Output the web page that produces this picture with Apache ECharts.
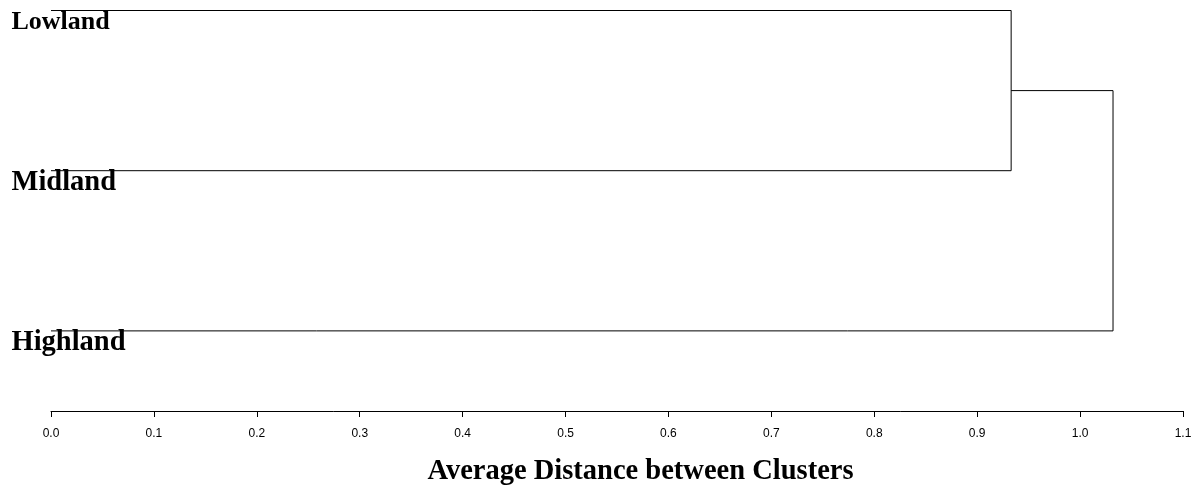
<!DOCTYPE html>
<html>
<head>
<meta charset="utf-8">
<script src="https://cdn.jsdelivr.net/npm/echarts@6/dist/echarts.min.js"></script>
<style>html,body{margin:0;padding:0;background:#fff}#c{width:1201px;height:491px}</style>
</head>
<body>
<div id="c"></div>
<script>
// Leaves (top to bottom) and their row positions
const leaves = ['Lowland', 'Midland', 'Highland'];
const leafRows = [0, 1, 2];
const leafFontSizes = [26, 28.5, 28.5];
// Merge heights (average distance): [Lowland+Midland], [(Lowland+Midland)+Highland]
const mergeHeights = [0.933, 1.032];
const xTicks = ['0.0','0.1','0.2','0.3','0.4','0.5','0.6','0.7','0.8','0.9','1.0','1.1'];
const axisTitle = 'Average Distance between Clusters';

const chart = echarts.init(document.getElementById('c'), null, {renderer: 'canvas'});

// Build dendrogram segments
const m1Row = (leafRows[0] + leafRows[1]) / 2;
const branch1 = [[0, leafRows[0]], [mergeHeights[0], leafRows[0]], [mergeHeights[0], leafRows[1]], [0, leafRows[1]]];
const branch2 = [[mergeHeights[0], m1Row], [mergeHeights[1], m1Row], [mergeHeights[1], leafRows[2]], [0, leafRows[2]]];

const lineStyle = {color: '#000', width: 1};
const option = {
  animation: false,
  grid: {left: 51, right: 18, top: 10.5, bottom: 78.5},
  xAxis: {
    type: 'value', min: 0, max: 1.1, interval: 0.1, position: 'bottom',
    splitLine: {show: false},
    axisLine: {show: true, onZero: false, lineStyle: {color: '#000', width: 1}},
    axisTick: {show: true, length: 6, lineStyle: {color: '#000'}},
    axisLabel: {
      color: '#000', fontSize: 12, fontFamily: 'Liberation Sans', margin: 17,
      formatter: (v) => xTicks[Math.round(v * 10)] || ''
    },
    name: axisTitle, nameLocation: 'middle', nameGap: 46,
    nameTextStyle: {color: '#000', fontSize: 28.5, fontWeight: 'bold', fontFamily: 'Liberation Serif', padding: [0, 0, 0, 47]}
  },
  yAxis: {
    type: 'value', min: 0, max: 2.5, inverse: true, show: false
  },
  series: [
    {type: 'line', data: branch1, symbol: 'none', lineStyle: lineStyle, silent: true},
    {type: 'line', data: branch2, symbol: 'none', lineStyle: lineStyle, silent: true},
    {
      type: 'scatter', symbolSize: 0, clip: false, silent: true,
      itemStyle: {color: '#000', opacity: 1},
      data: leaves.map((name, i) => ({
        value: [0, leafRows[i]], name: name,
        label: {fontSize: leafFontSizes[i]}
      })),
      label: {
        show: true, position: [-39.5, 11.5], formatter: (p) => p.name,
        align: 'left', verticalAlign: 'middle',
        color: '#000', fontWeight: 'bold', fontFamily: 'Liberation Serif'
      }
    }
  ]
};
chart.setOption(option);
</script>
</body>
</html>
